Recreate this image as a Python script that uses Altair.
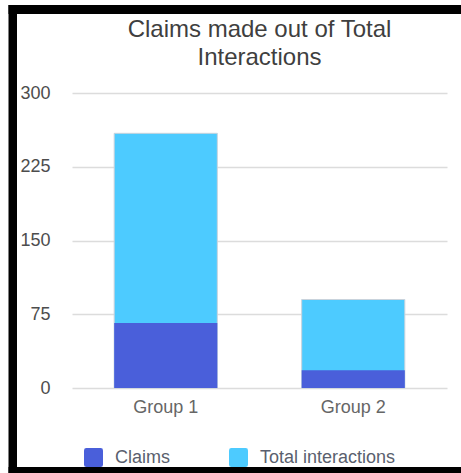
import altair as alt
import pandas as pd

# Chart data
groups = ["Group 1", "Group 2"]
claims = [66, 18]
total_interactions = [259, 90]

series_names = ["Claims", "Total interactions"]
series_colors = ["#4a5fda", "#4dcbff"]

rows = []
for g, c, t in zip(groups, claims, total_interactions):
    rows.append({"group": g, "series": "Total interactions", "value": t})
    rows.append({"group": g, "series": "Claims", "value": c})
df = pd.DataFrame(rows)

FONT = "Liberation Sans"
W, H = 375, 295

color = alt.Color(
    "series:N",
    scale=alt.Scale(domain=series_names, range=series_colors),
    legend=alt.Legend(
        title=None,
        orient="none",
        legendX=12,
        legendY=355,
        direction="horizontal",
        symbolType="M-0.75,-1H0.75Q1,-1 1,-0.75V0.75Q1,1 0.75,1H-0.75Q-1,1 -1,0.75V-0.75Q-1,-1 -0.75,-1Z",
        symbolSize=361,
        symbolStrokeWidth=0,
        symbolOpacity=1,
        labelFont=FONT,
        labelFontSize=18,
        labelColor="#5a5f6e",
        labelOffset=12,
        columnPadding=58,
        padding=0,
    ),
)

x = alt.X(
    "group:N",
    sort=groups,
    title=None,
    scale=alt.Scale(paddingInner=0.45, paddingOuter=0.225),
    axis=alt.Axis(
        labelAngle=0,
        labelFont=FONT,
        labelFontSize=18,
        labelColor="#666666",
        labelPadding=10,
        ticks=False,
        domain=False,
        grid=False,
    ),
)

y = alt.Y(
    "value:Q",
    stack=None,
    title=None,
    scale=alt.Scale(domain=[0, 300], nice=False),
    axis=alt.Axis(
        values=[0, 75, 150, 225, 300],
        labelFont=FONT,
        labelFontSize=18,
        labelColor="#4d4d4d",
        labelPadding=22,
        ticks=False,
        domain=False,
        grid=True,
        gridColor="#dcdcdc",
        gridWidth=1.5,
    ),
)

base = alt.Chart(df)

total_bars = base.transform_filter(alt.datum.series == "Total interactions").mark_bar(
    stroke="#c9d3dc", strokeWidth=1
).encode(x=x, y=y, color=color)

claim_bars = base.transform_filter(alt.datum.series == "Claims").mark_bar().encode(
    x=x, y=y, color=color
)

# Black frame on the top, left and bottom edges
one = pd.DataFrame({"k": [0]})
frame_left = alt.Chart(one).mark_rect(color="black").encode(
    x=alt.value(-63.5), x2=alt.value(-55), y=alt.value(-88), y2=alt.value(380)
)
frame_top = alt.Chart(one).mark_rect(color="black").encode(
    x=alt.value(-63.5), x2=alt.value(389), y=alt.value(-88), y2=alt.value(-79)
)
frame_bottom = alt.Chart(one).mark_rect(color="black").encode(
    x=alt.value(-63.5), x2=alt.value(389), y=alt.value(374), y2=alt.value(380)
)

chart = (
    alt.layer(total_bars, claim_bars, frame_left, frame_top, frame_bottom)
    .properties(
        width=W,
        height=H,
        title=alt.TitleParams(
            text=["Claims made out of Total", "Interactions"],
            font=FONT,
            fontSize=24,
            fontWeight="normal",
            color="#3f3f3f",
            lineHeight=28,
            anchor="middle",
            offset=-65,
        ),
        padding={"left": 72, "top": 93, "right": 14, "bottom": 85},
        autosize=alt.AutoSizeParams(type="none"),
        background="white",
    )
    .configure_view(stroke=None)
)

chart.save("out.html", embed_options={"renderer": "svg", "actions": False})
